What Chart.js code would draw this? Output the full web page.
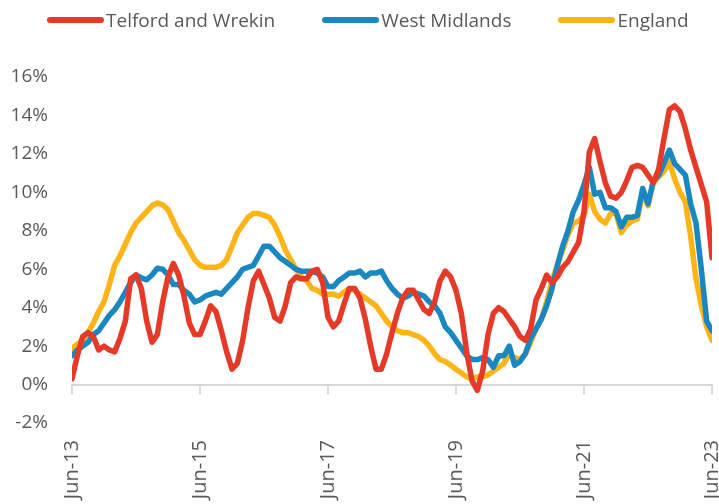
<!DOCTYPE html>
<html>
<head>
<meta charset="utf-8">
<script src="https://cdn.jsdelivr.net/npm/chart.js@4.4.0/dist/chart.umd.min.js"></script>
<style>
  html, body { margin: 0; padding: 0; overflow: hidden; background: #fff; }
  #wrap { position: relative; width: 740px; height: 540px; }
  #legend { position: absolute; top: 7px; left: 47px; display: flex; align-items: center;
            font: 19px 'Open Sans', sans-serif; color: #595959; white-space: nowrap; }
  .item { display: flex; align-items: center; margin-right: 47px; }
  .swatch { width: 57px; height: 6px; border-radius: 3px; margin-right: 2px; }
</style>
</head>
<body>
<div id="wrap">
  <canvas id="chart"></canvas>
  <div id="legend"></div>
</div>
<script>
// monthly, Jun-13 .. Jun-23
const monthNames = ['Jan', 'Feb', 'Mar', 'Apr', 'May', 'Jun', 'Jul', 'Aug', 'Sep', 'Oct', 'Nov', 'Dec'];
const months = [];
for (let i = 0; i <= 120; i++) {
    months.push(monthNames[(5 + i) % 12] + '-' + (13 + Math.floor((5 + i) / 12)));
}

const telford = [
    0.3, 1.5, 2.5, 2.7, 2.5, 1.8, 2.0, 1.8, 1.7, 2.4,
    3.3, 5.5, 5.7, 5.0, 3.3, 2.2, 2.6, 4.3, 5.6, 6.3,
    5.7, 4.6, 3.2, 2.6, 2.6, 3.3, 4.1, 3.8, 2.8, 1.7,
    0.8, 1.1, 2.3, 4.0, 5.4, 5.9, 5.2, 4.5, 3.5, 3.3,
    4.1, 5.3, 5.6, 5.5, 5.5, 5.9, 6.0, 5.3, 3.5, 3.0,
    3.3, 4.2, 5.0, 5.0, 4.5, 3.4, 2.0, 0.8, 0.8, 1.6,
    2.7, 3.7, 4.5, 4.9, 4.9, 4.4, 3.9, 3.7, 4.3, 5.4,
    5.9, 5.6, 4.9, 3.7, 1.7, 0.2, -0.3, 0.7, 2.6, 3.7,
    4.0, 3.8, 3.4, 3.0, 2.5, 2.3, 2.9, 4.4, 5.0, 5.7,
    5.3, 5.6, 6.1, 6.4, 6.9, 7.4, 9.0, 12.1, 12.8, 11.6,
    10.5, 9.8, 9.7, 10.0, 10.6, 11.3, 11.4, 11.3, 10.9, 10.5,
    11.2, 12.8, 14.3, 14.5, 14.2, 13.3, 12.2, 11.3, 10.4, 9.5, 6.6
];
const westMidlands = [
    1.5, 1.8, 2.0, 2.2, 2.6, 2.8, 3.2, 3.6, 3.9, 4.3,
    4.8, 5.3, 5.7, 5.55, 5.45, 5.7, 6.05, 6.0, 5.7, 5.2,
    5.2, 4.9, 4.7, 4.3, 4.4, 4.6, 4.7, 4.8, 4.7, 5.0,
    5.3, 5.6, 6.0, 6.1, 6.2, 6.7, 7.2, 7.2, 6.9, 6.6,
    6.4, 6.2, 6.0, 5.9, 5.9, 5.9, 5.8, 5.6, 5.1, 5.1,
    5.4, 5.6, 5.8, 5.8, 5.9, 5.6, 5.8, 5.8, 5.9, 5.4,
    5.0, 4.7, 4.5, 4.6, 4.8, 4.7, 4.6, 4.3, 4.1, 3.7,
    3.0, 2.7, 2.3, 1.9, 1.5, 1.3, 1.3, 1.4, 1.3, 0.9,
    1.5, 1.5, 2.0, 1.0, 1.2, 1.6, 2.4, 2.9, 3.4, 4.1,
    5.0, 6.2, 7.2, 8.0, 9.0, 9.6, 10.4, 11.3, 9.9, 10.0,
    9.2, 9.2, 9.0, 8.2, 8.7, 8.7, 8.8, 10.2, 9.4, 10.6,
    10.9, 11.5, 12.2, 11.5, 11.2, 10.9, 9.4, 8.4, 6.0, 3.3, 2.8
];
const england = [
    1.9, 2.1, 2.3, 2.7, 3.2, 3.8, 4.3, 5.2, 6.2, 6.7,
    7.3, 7.9, 8.4, 8.7, 9.0, 9.3, 9.45, 9.35, 9.1, 8.5,
    7.9, 7.5, 7.0, 6.5, 6.2, 6.1, 6.1, 6.1, 6.2, 6.5,
    7.2, 7.9, 8.3, 8.7, 8.9, 8.9, 8.8, 8.7, 8.3, 7.7,
    7.0, 6.5, 6.0, 5.6, 5.4, 5.0, 4.9, 4.7, 4.7, 4.7,
    4.6, 4.8, 5.0, 4.9, 4.7, 4.5, 4.3, 4.1, 3.7, 3.3,
    3.0, 2.8, 2.7, 2.7, 2.6, 2.5, 2.3, 2.0, 1.6, 1.3,
    1.2, 1.0, 0.8, 0.6, 0.4, 0.3, 0.4, 0.4, 0.5, 0.7,
    0.9, 1.1, 1.6, 1.4, 1.3, 1.6, 2.2, 2.9, 3.4, 4.3,
    5.4, 6.2, 7.0, 7.8, 8.4, 8.5, 8.8, 9.9, 9.0, 8.6,
    8.4, 8.9, 8.9, 7.9, 8.3, 8.5, 8.6, 10.0, 9.3, 10.5,
    10.8, 11.1, 11.6, 10.7, 10.0, 9.5, 7.7, 5.5, 4.1, 3.0, 2.3
];

const seriesNames = ['Telford and Wrekin', 'West Midlands', 'England'];
const seriesColors = ['#e63a28', '#1b87c1', '#fcb416'];

const textColor = '#595959';
Chart.defaults.font.family = "'Open Sans', sans-serif";
Chart.defaults.color = textColor;

function toPoints(values) {
    return values.map((v, i) => ({ x: i, y: v }));
}

const chart = new Chart(document.getElementById('chart'), {
    type: 'line',
    data: {
        datasets: [telford, westMidlands, england].map((values, i) => ({
            label: seriesNames[i],
            data: toPoints(values),
            borderColor: seriesColors[i],
            backgroundColor: seriesColors[i]
        }))
    },
    options: {
        responsive: true,
        maintainAspectRatio: false,
        animation: false,
        layout: { padding: { top: 77, right: 28, left: 0, bottom: 0 } },
        elements: {
            point: { radius: 0 },
            line: { borderWidth: 5.5, tension: 0, borderCapStyle: 'round', borderJoinStyle: 'round' }
        },
        plugins: {
            legend: { display: false },
            tooltip: { enabled: false }
        },
        scales: {
            x: {
                type: 'linear',
                min: 0,
                max: 120,
                grid: { display: false, drawTicks: false },
                border: { display: false },
                ticks: {
                    stepSize: 24,
                    autoSkip: false,
                    minRotation: 90,
                    maxRotation: 90,
                    padding: 17,
                    font: { size: 20 },
                    callback: (v) => months[v]
                },
                afterFit(s) { s.height = 117; s.paddingLeft = 0; s.paddingRight = 0; }
            },
            zero: {
                type: 'linear',
                axis: 'x',
                position: { y: 0 },
                min: 0,
                max: 120,
                ticks: { display: false, stepSize: 24 },
                grid: { drawOnChartArea: false, color: '#d9d9d9', lineWidth: 2, tickLength: 8 },
                border: { color: '#d9d9d9', width: 2 },
                afterFit(s) { s.paddingLeft = 0; s.paddingRight = 0; }
            },
            y: {
                min: -2,
                max: 16,
                grid: { display: false, drawTicks: false },
                border: { display: false },
                ticks: {
                    stepSize: 2,
                    padding: 24,
                    font: { size: 19 },
                    callback: (v) => v + '%'
                },
                afterFit(s) { s.width = 72; s.paddingTop = 0; s.paddingBottom = 0; }
            }
        }
    }
});

// legend built from the chart's datasets
const legendBox = document.getElementById('legend');
chart.data.datasets.forEach((ds) => {
    const item = document.createElement('div');
    item.className = 'item';
    const swatch = document.createElement('span');
    swatch.className = 'swatch';
    swatch.style.background = ds.borderColor;
    const text = document.createElement('span');
    text.textContent = ds.label;
    item.appendChild(swatch);
    item.appendChild(text);
    legendBox.appendChild(item);
});
</script>
</body>
</html>
